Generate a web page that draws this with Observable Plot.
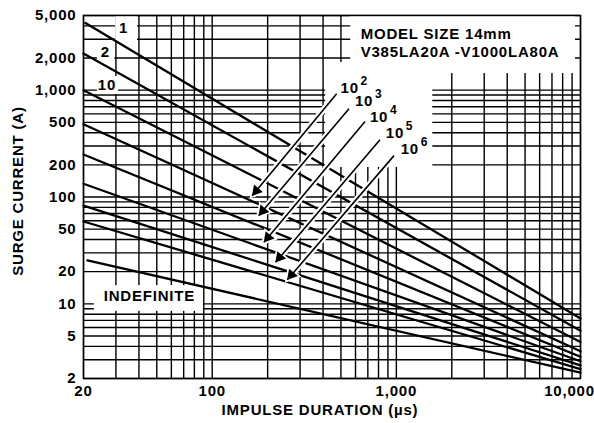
<!DOCTYPE html>
<html><head><meta charset="utf-8">
<script src="https://cdn.jsdelivr.net/npm/d3@7"></script>
<script src="https://cdn.jsdelivr.net/npm/@observablehq/plot@0.6"></script>
<style>html,body{margin:0;padding:0;background:#fff} svg{display:block}</style>
</head><body><div id="chart"></div>
<script>
// ---- data ----
const seriesNames = ["1", "2", "10", "1e2", "1e3", "1e4", "1e5", "1e6", "INDEFINITE"];
const startDuration = [20.5, 20, 20, 20, 20, 20, 20, 20, 21];
const startCurrent = [4250, 2200, 1000, 480, 250, 133, 83, 59, 25.5];
const endDuration = [10000, 10000, 10000, 10000, 10000, 10000, 10000, 10000, 10000];
const endCurrent = [7.3, 5.6, 4.4, 3.6, 3.2, 2.9, 2.65, 2.45, 2.27];

const xTicks = [20, 100, 1000, 10000];
const yTicks = [2, 5, 10, 20, 50, 100, 200, 500, 1000, 2000, 5000];
const xGrid = [20, 30, 40, 50, 60, 70, 80, 90, 100, 200, 300, 400, 500, 600, 700, 800, 900, 1000,
  2000, 3000, 4000, 5000, 6000, 7000, 8000, 9000, 10000];
const yGrid = [2, 3, 4, 5, 6, 7, 8, 9, 10, 20, 30, 40, 50, 60, 70, 80, 90, 100, 200, 300, 400, 500,
  600, 700, 800, 900, 1000, 2000, 3000, 4000, 5000];

// blank (white) areas behind annotations
const boxX1 = [565, 413, 29.9, 23.8, 23.8, 22.9];
const boxX2 = [9400, 1577, 39.3, 29.6, 31.0, 89.5];
const boxY1 = [1431, 189, 2795, 1815, 910, 8.5];
const boxY2 = [5000, 1815, 5000, 2795, 1343, 14.8];

// curve labels
const curveLabels = ["1", "2", "10"];
const curveLabelX = [33.0, 26.3, 26.8];
const curveLabelY = [3792, 2267, 1106];

// number-of-pulses labels (10^n)
const expBase = ["10", "10", "10", "10", "10"];
const expPower = ["2", "3", "4", "5", "6"];
const expX = [498, 596, 719, 876, 1056];
const expY = [1052, 787, 558, 395, 282];
const arrowFromX = [474, 553, 676, 815, 971];
const arrowFromY = [925, 669, 509, 343, 244];
const arrowToX = [165, 179, 191, 221, 256];
const arrowToY = [103, 67, 37.7, 24.5, 16.8];

const modelText = ["MODEL SIZE 14mm", "V385LA20A -V1000LA80A"];
const modelX = [640, 640];
const modelY = [3370, 2267];
const indefText = ["INDEFINITE"];
const indefX = [45.6];
const indefY = [11.7];

// ---- tables built from the arrays ----
const curves = seriesNames.flatMap((s, i) => [
  {s, x: startDuration[i], y: startCurrent[i]},
  {s, x: endDuration[i], y: endCurrent[i]}
]);
const boxes = boxX1.map((d, i) => ({x1: boxX1[i], x2: boxX2[i], y1: boxY1[i], y2: boxY2[i]}));
const arrows = arrowFromX.map((d, i) => ({x1: arrowFromX[i], y1: arrowFromY[i], x2: arrowToX[i], y2: arrowToY[i]}));
const exps = expBase.map((b, i) => ({b, p: expPower[i], x: expX[i], y: expY[i]}));
const fmt = d3.format(",");
const F = {fill: "#000", fontSize: 15, fontWeight: "bold"};

const chart = Plot.plot({
  width: 594,
  height: 423,
  marginLeft: 83,
  marginRight: 14,
  marginTop: 15,
  marginBottom: 45,
  style: {fontFamily: "'Liberation Sans', Arial, sans-serif", fontSize: "15px", fontWeight: "bold", letterSpacing: "0.8px", color: "#000", background: "#fff"},
  x: {type: "log", domain: [20, 10000], axis: null},
  y: {type: "log", domain: [2, 5000], axis: null},
  marks: [
    Plot.ruleX(xGrid, {stroke: "#000", strokeWidth: 1.4}),
    Plot.ruleY(yGrid, {stroke: "#000", strokeWidth: 1.4}),
    Plot.rect(boxes, {x1: "x1", x2: "x2", y1: "y1", y2: "y2", fill: "#fff"}),
    Plot.line(curves, {x: "x", y: "y", z: "s", stroke: "#000", strokeWidth: 2.3}),
    Plot.link(arrows, {x1: "x1", y1: "y1", x2: "x2", y2: "y2", stroke: "#fff", strokeWidth: 6}),
    Plot.dot(arrows, {x: "x2", y: "y2", symbol: "triangle", r: 6.5, fill: "#fff", rotate: -140, dx: 4, dy: -4.8}),
    Plot.link(arrows, {x1: "x1", y1: "y1", x2: "x2", y2: "y2", stroke: "#000", strokeWidth: 1.6}),
    Plot.dot(arrows, {x: "x2", y: "y2", symbol: "triangle", r: 4.3, fill: "#000", rotate: -140, dx: 4, dy: -4.8}),
    Plot.text(curveLabels, {x: (d, i) => curveLabelX[i], y: (d, i) => curveLabelY[i], text: d => d, ...F}),
    Plot.text(exps, {x: "x", y: "y", text: "b", textAnchor: "start", ...F}),
    Plot.text(exps, {x: "x", y: "y", text: "p", textAnchor: "start", ...F, fontSize: 12, dx: 20, dy: -7}),
    Plot.text(modelText, {x: (d, i) => modelX[i], y: (d, i) => modelY[i], text: d => d, textAnchor: "start", ...F}),
    Plot.text(indefText, {x: (d, i) => indefX[i], y: (d, i) => indefY[i], text: d => d, ...F}),
    Plot.frame({stroke: "#000", strokeWidth: 1.4}),
    Plot.text(yTicks, {y: d => d, frameAnchor: "left", textAnchor: "end", dx: -7, text: d => fmt(d), ...F}),
    Plot.text(xTicks.slice(0, 3), {x: d => d, frameAnchor: "bottom", lineAnchor: "top", dy: 7, text: d => fmt(d), ...F}),
    Plot.text(xTicks.slice(3), {x: d => d, frameAnchor: "bottom", lineAnchor: "top", dy: 7, dx: -11, text: d => fmt(d), ...F}),
    Plot.text(["IMPULSE DURATION (\u00b5s)"], {frameAnchor: "bottom", lineAnchor: "middle", dy: 32, dx: -12, text: d => d, ...F}),
    Plot.text(["SURGE CURRENT (A)"], {frameAnchor: "left", textAnchor: "middle", rotate: -90, lineAnchor: "middle", dx: -65, dy: -6, text: d => d, ...F})
  ]
});
document.getElementById("chart").appendChild(chart);
</script>
</body></html>
